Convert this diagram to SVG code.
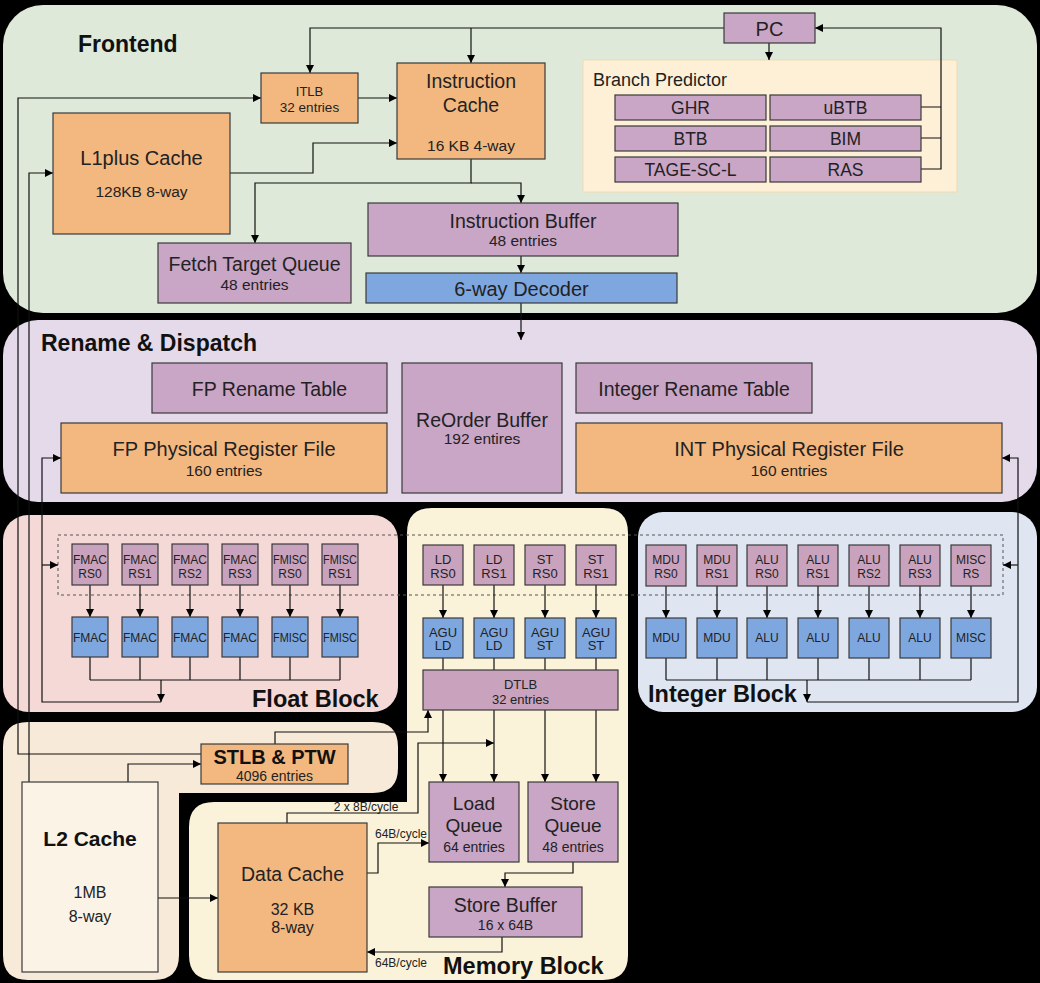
<svg xmlns="http://www.w3.org/2000/svg" width="1040" height="983" viewBox="0 0 1040 983">
<defs>
<marker id="arr" markerUnits="userSpaceOnUse" markerWidth="8" markerHeight="8" refX="8" refY="4" orient="auto">
<path d="M0,0 L8,4 L0,8 z" fill="#000"/>
</marker>
<style>
text{font-family:"Liberation Sans",Arial,sans-serif;fill:#222;text-anchor:middle}
.t{font-weight:bold;text-anchor:start;fill:#111}
.b{stroke:#3a3a3a;stroke-width:1.2}
.or{fill:#f2b880}
.pu{fill:#c9a5c6}
.rs{fill:#c9a3bd}
.bl{fill:#7ea7e0}
.c{fill:none;stroke:#111;stroke-width:1.2}
.a{marker-end:url(#arr)}
.s12{font-size:12px}
.s13{font-size:13px}
.s15{font-size:15.5px}
.s19{font-size:19.5px}
</style>
</defs>
<rect x="0" y="0" width="1040" height="983" fill="#000"/>
<g id="panels">
<rect id="frontend" x="3" y="5" width="1034" height="308" rx="40" fill="#dfe9da"/>
<rect id="rename" x="3" y="320" width="1034" height="182" rx="35" fill="#e4daea"/>
<rect id="float" x="3" y="515" width="395" height="197" rx="25" fill="#f4d9d7"/>
<rect id="integer" x="638" y="512" width="399" height="200" rx="25" fill="#dfe6f2"/>
<path id="memory" d="M432,508 H603 Q628,508 628,533 V955 Q628,980 603,980 H214 Q189,980 189,955 V827 Q189,802 214,802 H407 V533 Q407,508 432,508 Z" fill="#fbf2da"/>
<path id="l2panel" d="M28,722 H373 Q398,722 398,747 V768 Q398,793 373,793 H179 V955 Q179,980 154,980 H28 Q3,980 3,955 V747 Q3,722 28,722 Z" fill="#f8ead9"/>
</g>
<g id="titles">
<text class="t" x="78" y="52" style="font-size:23px">Frontend</text>
<text class="t" x="41" y="351" style="font-size:23px">Rename &amp; Dispatch</text>
<text class="t" x="252" y="707" style="font-size:23.5px">Float Block</text>
<text class="t" x="648" y="702" style="font-size:23.5px">Integer Block</text>
<text class="t" x="443" y="974" style="font-size:23.5px">Memory Block</text>
</g>
<g id="bp-container">
<rect x="583" y="60" width="374" height="132" fill="#fdf0d6" stroke="#efdcb0" stroke-width="1"/>
<text x="593" y="86" style="font-size:18px;text-anchor:start">Branch Predictor</text>
</g>
<rect id="rs-area" x="58" y="535" width="945" height="60" fill="none" stroke="#555" stroke-width="1" stroke-dasharray="3 3"/>
<g id="connectors" class="c">
<path class="a" d="M724,28 H310 V73"/>
<path class="a" d="M471,28 V63"/>
<path class="a" d="M769,43 V60"/>
<path d="M921,107 H941 M921,138 H941"/>
<path class="a" d="M921,169 H941 V28 H815"/>
<path class="a" d="M358,98 H397"/>
<path class="a" d="M230,173 H313 V143 H397"/>
<path class="a" d="M471,159 V183 H255 V243"/>
<path class="a" d="M471,183 H521 V203"/>
<path class="a" d="M521,256 V273"/>
<path class="a" d="M521,303 V340"/>
<path class="a" d="M201,754 H18 V98 H261"/>
<path class="a" d="M29,782 V173 H53"/>
<path class="a" d="M128,782 V764 H201"/>
<path class="a" d="M158,898 H218"/>
<path d="M90,657 V680 M140,657 V680 M190,657 V680 M240,657 V680 M290,657 V680 M340,657 V680 M90,680 H340"/>
<path class="a" d="M161,680 V702"/>
<path class="a" d="M161,702 H42 V458 H61"/>
<path class="a" d="M42,565 H58"/>
<path class="a" d="M90,585 V617"/><path class="a" d="M140,585 V617"/><path class="a" d="M190,585 V617"/>
<path class="a" d="M240,585 V617"/><path class="a" d="M290,585 V617"/><path class="a" d="M340,585 V617"/>
<path class="a" d="M443,585 V618"/><path class="a" d="M494,585 V618"/><path class="a" d="M545,585 V618"/><path class="a" d="M596,585 V618"/>
<path d="M443,658 V670 M494,658 V670 M545,658 V670 M596,658 V670"/>
<path class="a" d="M443,710 V782"/><path class="a" d="M494,710 V782"/><path class="a" d="M545,710 V782"/><path class="a" d="M596,710 V782"/>
<path class="a" d="M275,744 V732 H428 V710"/>
<path class="a" d="M287,823 V813 H418 V743 H494"/>
<path class="a" d="M367,873 H378 V843 H429"/>
<path class="a" d="M573,862 V873 H505 V887"/>
<path class="a" d="M502,937 V952 H367"/>
<path class="a" d="M666,586 V618"/><path class="a" d="M717,586 V618"/><path class="a" d="M767,586 V618"/><path class="a" d="M818,586 V618"/>
<path class="a" d="M869,586 V618"/><path class="a" d="M920,586 V618"/><path class="a" d="M971,586 V618"/>
<path d="M666,658 V680 M717,658 V680 M767,658 V680 M818,658 V680 M869,658 V680 M920,658 V680 M971,658 V680 M666,680 H971"/>
<path class="a" d="M807,680 V702"/>
<path class="a" d="M807,702 H1018 V458 H1002"/>
<path class="a" d="M1018,565 H1003"/>
</g>
<g id="pc"><rect class="b pu" x="724" y="13" width="91" height="30"/><text x="769.5" y="36" style="font-size:20px">PC</text></g>
<g id="ghr"><rect class="b pu" x="615" y="95" width="151" height="25"/><text x="690.5" y="114" style="font-size:17.5px">GHR</text></g>
<g id="ubtb"><rect class="b pu" x="770" y="95" width="151" height="25"/><text x="845.5" y="114" style="font-size:17.5px">uBTB</text></g>
<g id="btb"><rect class="b pu" x="615" y="126" width="151" height="25"/><text x="690.5" y="145" style="font-size:17.5px">BTB</text></g>
<g id="bim"><rect class="b pu" x="770" y="126" width="151" height="25"/><text x="845.5" y="145" style="font-size:17.5px">BIM</text></g>
<g id="tage"><rect class="b pu" x="615" y="157" width="151" height="25"/><text x="690.5" y="176" style="font-size:17.5px">TAGE-SC-L</text></g>
<g id="ras"><rect class="b pu" x="770" y="157" width="151" height="25"/><text x="845.5" y="176" style="font-size:17.5px">RAS</text></g>
<g id="itlb"><rect class="b or" x="261" y="73" width="97" height="50"/><text class="s13" x="309.5" y="96">ITLB</text><text x="309.5" y="112" style="font-size:13.5px">32 entries</text></g>
<g id="icache"><rect class="b or" x="397" y="63" width="148" height="96"/><text class="s19" x="471" y="88">Instruction</text><text class="s19" x="471" y="112">Cache</text><text class="s15" x="471" y="151">16 KB 4-way</text></g>
<g id="l1plus"><rect class="b or" x="53" y="113" width="177" height="121"/><text x="141.5" y="165" style="font-size:20px">L1plus Cache</text><text class="s15" x="141.5" y="197">128KB 8-way</text></g>
<g id="ibuf"><rect class="b pu" x="368" y="203" width="310" height="53"/><text class="s19" x="523" y="228">Instruction Buffer</text><text class="s15" x="523" y="246">48 entries</text></g>
<g id="ftq"><rect class="b pu" x="158" y="243" width="193" height="60"/><text class="s19" x="254.5" y="271">Fetch Target Queue</text><text class="s15" x="254.5" y="290">48 entries</text></g>
<g id="decoder"><rect class="b bl" x="366" y="273" width="311" height="30"/><text x="521.5" y="296" style="font-size:20px">6-way Decoder</text></g>
<g id="fprt"><rect class="b pu" x="152" y="363" width="235" height="50"/><text class="s19" x="269.5" y="396">FP Rename Table</text></g>
<g id="fpprf"><rect class="b or" x="61" y="423" width="326" height="70"/><text x="224" y="456" style="font-size:20px">FP Physical Register File</text><text class="s15" x="224" y="476">160 entries</text></g>
<g id="rob"><rect class="b pu" x="402" y="363" width="160" height="130"/><text class="s19" x="482" y="427">ReOrder Buffer</text><text class="s15" x="482" y="444">192 entires</text></g>
<g id="intrt"><rect class="b pu" x="576" y="363" width="236" height="50"/><text class="s19" x="694" y="396">Integer Rename Table</text></g>
<g id="intprf"><rect class="b or" x="576" y="423" width="426" height="70"/><text x="789" y="456" style="font-size:20px">INT Physical Register File</text><text class="s15" x="789" y="476">160 entries</text></g>
<g id="fmac-rs0"><rect class="b rs" x="72" y="544" width="36" height="41"/><text class="s12" x="90" y="564">FMAC</text><text class="s12" x="90" y="578">RS0</text></g>
<g id="fmac-rs1"><rect class="b rs" x="122" y="544" width="36" height="41"/><text class="s12" x="140" y="564">FMAC</text><text class="s12" x="140" y="578">RS1</text></g>
<g id="fmac-rs2"><rect class="b rs" x="172" y="544" width="36" height="41"/><text class="s12" x="190" y="564">FMAC</text><text class="s12" x="190" y="578">RS2</text></g>
<g id="fmac-rs3"><rect class="b rs" x="222" y="544" width="36" height="41"/><text class="s12" x="240" y="564">FMAC</text><text class="s12" x="240" y="578">RS3</text></g>
<g id="fmisc-rs0"><rect class="b rs" x="272" y="544" width="36" height="41"/><text class="s12" x="290" y="564" textLength="34" lengthAdjust="spacingAndGlyphs">FMISC</text><text class="s12" x="290" y="578">RS0</text></g>
<g id="fmisc-rs1"><rect class="b rs" x="322" y="544" width="36" height="41"/><text class="s12" x="340" y="564" textLength="34" lengthAdjust="spacingAndGlyphs">FMISC</text><text class="s12" x="340" y="578">RS1</text></g>
<g id="fmac0"><rect class="b bl" x="72" y="617" width="36" height="40"/><text class="s12" x="90" y="642">FMAC</text></g>
<g id="fmac1"><rect class="b bl" x="122" y="617" width="36" height="40"/><text class="s12" x="140" y="642">FMAC</text></g>
<g id="fmac2"><rect class="b bl" x="172" y="617" width="36" height="40"/><text class="s12" x="190" y="642">FMAC</text></g>
<g id="fmac3"><rect class="b bl" x="222" y="617" width="36" height="40"/><text class="s12" x="240" y="642">FMAC</text></g>
<g id="fmisc0"><rect class="b bl" x="272" y="617" width="36" height="40"/><text class="s12" x="290" y="642" textLength="34" lengthAdjust="spacingAndGlyphs">FMISC</text></g>
<g id="fmisc1"><rect class="b bl" x="322" y="617" width="36" height="40"/><text class="s12" x="340" y="642" textLength="34" lengthAdjust="spacingAndGlyphs">FMISC</text></g>
<g id="ld-rs0"><rect class="b rs" x="423" y="545" width="40" height="40"/><text class="s13" x="443" y="564">LD</text><text class="s13" x="443" y="578">RS0</text></g>
<g id="ld-rs1"><rect class="b rs" x="474" y="545" width="40" height="40"/><text class="s13" x="494" y="564">LD</text><text class="s13" x="494" y="578">RS1</text></g>
<g id="st-rs0"><rect class="b rs" x="525" y="545" width="40" height="40"/><text class="s13" x="545" y="564">ST</text><text class="s13" x="545" y="578">RS0</text></g>
<g id="st-rs1"><rect class="b rs" x="576" y="545" width="40" height="40"/><text class="s13" x="596" y="564">ST</text><text class="s13" x="596" y="578">RS1</text></g>
<g id="agu-ld0"><rect class="b bl" x="423" y="618" width="40" height="40"/><text class="s13" x="443" y="637">AGU</text><text class="s13" x="443" y="650">LD</text></g>
<g id="agu-ld1"><rect class="b bl" x="474" y="618" width="40" height="40"/><text class="s13" x="494" y="637">AGU</text><text class="s13" x="494" y="650">LD</text></g>
<g id="agu-st0"><rect class="b bl" x="525" y="618" width="40" height="40"/><text class="s13" x="545" y="637">AGU</text><text class="s13" x="545" y="650">ST</text></g>
<g id="agu-st1"><rect class="b bl" x="576" y="618" width="40" height="40"/><text class="s13" x="596" y="637">AGU</text><text class="s13" x="596" y="650">ST</text></g>
<g id="dtlb"><rect class="b rs" x="423" y="670" width="195" height="40"/><text class="s13" x="520.5" y="689">DTLB</text><text class="s13" x="520.5" y="704">32 entries</text></g>
<g id="mdu-rs0"><rect class="b rs" x="646" y="545" width="40" height="41"/><text class="s12" x="666" y="564">MDU</text><text class="s12" x="666" y="578">RS0</text></g>
<g id="mdu-rs1"><rect class="b rs" x="697" y="545" width="40" height="41"/><text class="s12" x="717" y="564">MDU</text><text class="s12" x="717" y="578">RS1</text></g>
<g id="alu-rs0"><rect class="b rs" x="747" y="545" width="40" height="41"/><text class="s12" x="767" y="564">ALU</text><text class="s12" x="767" y="578">RS0</text></g>
<g id="alu-rs1"><rect class="b rs" x="798" y="545" width="40" height="41"/><text class="s12" x="818" y="564">ALU</text><text class="s12" x="818" y="578">RS1</text></g>
<g id="alu-rs2"><rect class="b rs" x="849" y="545" width="40" height="41"/><text class="s12" x="869" y="564">ALU</text><text class="s12" x="869" y="578">RS2</text></g>
<g id="alu-rs3"><rect class="b rs" x="900" y="545" width="40" height="41"/><text class="s12" x="920" y="564">ALU</text><text class="s12" x="920" y="578">RS3</text></g>
<g id="misc-rs"><rect class="b rs" x="951" y="545" width="40" height="41"/><text class="s12" x="971" y="564">MISC</text><text class="s12" x="971" y="578">RS</text></g>
<g id="mdu0"><rect class="b bl" x="646" y="618" width="40" height="40"/><text class="s12" x="666" y="642">MDU</text></g>
<g id="mdu1"><rect class="b bl" x="697" y="618" width="40" height="40"/><text class="s12" x="717" y="642">MDU</text></g>
<g id="alu0"><rect class="b bl" x="747" y="618" width="40" height="40"/><text class="s12" x="767" y="642">ALU</text></g>
<g id="alu1"><rect class="b bl" x="798" y="618" width="40" height="40"/><text class="s12" x="818" y="642">ALU</text></g>
<g id="alu2"><rect class="b bl" x="849" y="618" width="40" height="40"/><text class="s12" x="869" y="642">ALU</text></g>
<g id="alu3"><rect class="b bl" x="900" y="618" width="40" height="40"/><text class="s12" x="920" y="642">ALU</text></g>
<g id="misc"><rect class="b bl" x="951" y="618" width="40" height="40"/><text class="s12" x="971" y="642">MISC</text></g>
<g id="stlb"><rect class="b or" x="201" y="744" width="147" height="40"/><text x="274.5" y="764" style="font-size:20px;font-weight:bold;fill:#111">STLB &amp; PTW</text><text x="274.5" y="781" style="font-size:14px">4096 entries</text></g>
<g id="l2"><rect class="b" x="22" y="782" width="136" height="190" fill="#fbf3e6"/><text x="90" y="846" style="font-size:21px;font-weight:bold;fill:#111">L2 Cache</text><text x="90" y="898" style="font-size:16px">1MB</text><text x="90" y="922" style="font-size:16px">8-way</text></g>
<g id="dcache"><rect class="b or" x="218" y="823" width="149" height="149"/><text class="s19" x="292.5" y="881">Data Cache</text><text x="292.5" y="915" style="font-size:16px">32 KB</text><text x="292.5" y="933" style="font-size:16px">8-way</text></g>
<g id="lq"><rect class="b pu" x="429" y="782" width="90" height="80"/><text x="474" y="810" style="font-size:19px">Load</text><text x="474" y="832" style="font-size:19px">Queue</text><text x="474" y="852" style="font-size:14px">64 entries</text></g>
<g id="sq"><rect class="b pu" x="528" y="782" width="90" height="80"/><text x="573" y="810" style="font-size:19px">Store</text><text x="573" y="832" style="font-size:19px">Queue</text><text x="573" y="852" style="font-size:14px">48 entries</text></g>
<g id="sb"><rect class="b pu" x="429" y="887" width="153" height="50"/><text class="s19" x="505.5" y="912">Store Buffer</text><text x="505.5" y="930" style="font-size:14px">16 x 64B</text></g>
<g id="labels">
<text x="366" y="811" style="font-size:12px">2 x 8B/cycle</text>
<text x="401" y="838" style="font-size:12px">64B/cycle</text>
<text x="401" y="967" style="font-size:12px">64B/cycle</text>
</g>
</svg>
